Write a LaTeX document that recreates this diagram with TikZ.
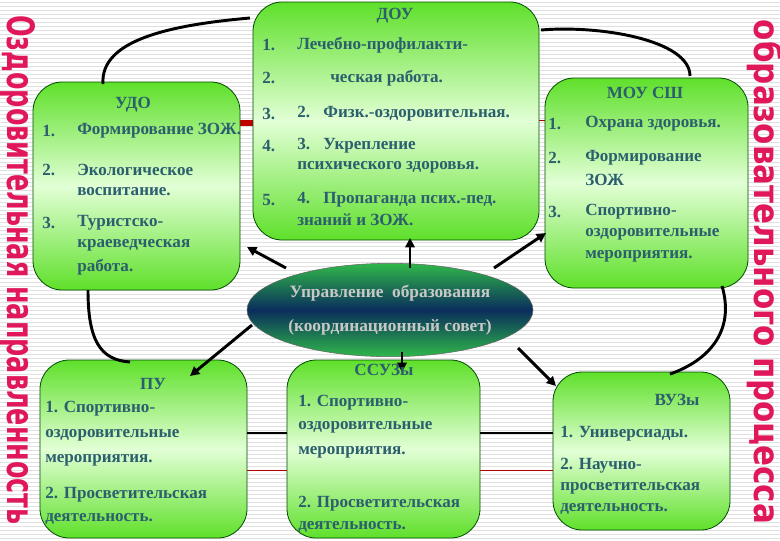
\documentclass[tikz,border=0pt]{standalone}
\usepackage{fontspec}
\setmainfont{Liberation Serif}
\newfontfamily\sidefont{DejaVu Sans}
\usetikzlibrary{shapes.geometric,arrows.meta}
\definecolor{txt}{HTML}{2C5F6E}
\definecolor{gr}{HTML}{5FE02A}
\definecolor{pale}{HTML}{E2FFD6}
\definecolor{side}{HTML}{E0185A}
\definecolor{navy}{HTML}{0A2E5C}
\definecolor{egreen}{HTML}{2FB84A}
\tikzset{
 box/.style={draw=black!70!green,line width=0.6pt,rounded corners=22pt,top color=gr,bottom color=gr,middle color=pale},
 t/.style={anchor=west,inner sep=0pt,text=txt,font=\bfseries\fontsize{12.8}{14}\selectfont},
 ttl/.style={t,anchor=center},
 conn/.style={line width=2.2pt,black},
 arr/.style={conn,-{Triangle[length=7pt,width=7pt]}},
 sidetxt/.style={inner sep=0pt,text=side,font=\sidefont\bfseries}
}
\begin{document}
\begin{tikzpicture}[x=0.75pt,y=-0.75pt]
\useasboundingbox (0,0) rectangle (780,540);
\fill[white] (0,0) rectangle (780,540);
\foreach \k in {2,6,...,538} \draw[black!12,line width=0.4pt] (0,\k) -- (780,\k);
% red lines
\draw[red!75!black,line width=4pt] (238,123) -- (256,123);
\draw[red!70!black,line width=0.5pt] (537,120) -- (547,120);
\draw[red!70!black,line width=0.5pt] (245,470) -- (290,470);
\draw[red!70!black,line width=0.5pt] (478,470) -- (556,470);
% boxes
\path[box] (253,2) rectangle (539,240);
\path[box] (33,82) rectangle (240,290);
\path[box] (545,78) rectangle (748,288);
\path[box] (40,360) rectangle (247,538);
\path[box] (287,360) rectangle (480,538);
\path[box] (553,372) rectangle (730,530);
\node[ellipse,inner sep=0pt,draw=black!60,
  minimum width=214.5pt,minimum height=70pt,top color=egreen,bottom color=egreen,middle color=navy] (upr) at (390,310) {};
\node[ttl,text=black!8!gray!40,font=\bfseries\fontsize{13}{14}\selectfont] (u1) at (390,293) {Управление\ \ образования};
\node[ttl,text=black!8!gray!40,font=\bfseries\fontsize{13}{14}\selectfont] (u2) at (390,327) {(координационный совет)};
% named anchors
\coordinate (doutl) at (250,18); \coordinate (doutr) at (541,30);
\coordinate (udot) at (103,84); \coordinate (udob) at (88,290);
\coordinate (moutp) at (690,76); \coordinate (moub) at (722,286);
\coordinate (put) at (130,362); \coordinate (vuzt) at (670,374);
\coordinate (doub) at (410,238); \coordinate (udobr) at (247,247);
\coordinate (moubl) at (546,233); \coordinate (putr) at (190,376);
\coordinate (ssuzt) at (402,372); \coordinate (vuztl) at (556,386);
\coordinate (puR) at (247,433); \coordinate (ssL) at (287,433);
\coordinate (ssR) at (480,433); \coordinate (vuL) at (553,433);
% curves
\draw[conn] (udot) .. controls (100,40) and (170,25) .. (doutl);
\draw[conn] (doutr) .. controls (600,25) and (690,40) .. (moutp);
\draw[conn] (udob) .. controls (88,340) and (100,360) .. (put);
\draw[conn] (moub) .. controls (735,330) and (710,360) .. (vuzt);
\draw[conn] (ssL) -- (puR);
\draw[conn] (ssR) -- (vuL);
% arrows from ellipse
\draw[arr] (410,268) -- (doub);
\draw[arr] (286,268) -- (udobr);
\draw[arr] (494,268) -- (moubl);
\draw[arr] (252,325) -- (putr);
\draw[arr] (402,352) -- (ssuzt);
\draw[arr] (518,348) -- (vuztl);
% DOU text
\node[ttl] (dt) at (395,16) {ДОУ};
\node[t] (d1n) at (262,45) {1.}; \node[t] (d1) at (297,45) {Лечебно-профилакти-};
\node[t] (d2n) at (262,78) {2.}; \node[t] (d2) at (330,78) {ческая работа.};
\node[t] (d3n) at (262,114) {3.}; \node[t] (d3) at (297,114) {2.\hspace{10pt}Физк.-оздоровительная.};
\node[t] (d4n) at (262,146) {4.}; \node[t] (d4) at (297,146) {3.\hspace{10pt}Укрепление};
\node[t] (d4b) at (297,167) {психического здоровья.};
\node[t] (d5n) at (262,200) {5.}; \node[t] (d5) at (297,200) {4.\hspace{10pt}Пропаганда псих.-пед.};
\node[t] (d5b) at (297,220) {знаний и ЗОЖ.};
% UDO
\node[ttl] (ut) at (133,105) {УДО};
\node[t] (u1n) at (42,131) {1.}; \node[t] (ud1) at (77,131) {Формирование ЗОЖ.};
\node[t] (u2n) at (42,170) {2.}; \node[t] (ud2) at (77,170) {Экологическое};
\node[t] (ud2b) at (77,192) {воспитание.};
\node[t] (u3n) at (42,223) {3.}; \node[t] (ud3) at (77,223) {Туристско-};
\node[t] (ud3b) at (77,245) {краеведческая};
\node[t] (ud3c) at (77,267) {работа.};
% MOU
\node[ttl] (mt) at (645,93) {МОУ СШ};
\node[t] (m1n) at (548,124) {1.}; \node[t] (m1) at (585,124) {Охрана здоровья.};
\node[t] (m2n) at (548,158) {2.}; \node[t] (m2) at (585,158) {Формирование};
\node[t] (m2b) at (585,180) {ЗОЖ};
\node[t] (m3n) at (548,212) {3.}; \node[t] (m3) at (585,212) {Спортивно-};
\node[t] (m3b) at (585,234) {оздоровительные};
\node[t] (m3c) at (585,256) {мероприятия.};
% PU
\node[ttl] (pt) at (153,384) {ПУ};
\node[t] (p1) at (45,409) {1. Спортивно-};
\node[t] (p2) at (45,435) {оздоровительные};
\node[t] (p3) at (45,460) {мероприятия.};
\node[t] (p4) at (45,495) {2. Просветительская};
\node[t] (p5) at (45,519) {деятельность.};
% SSUZ
\node[ttl] (st) at (384,370) {ССУЗы};
\node[t] (s1) at (298,403) {1. Спортивно-};
\node[t] (s2) at (298,427) {оздоровительные};
\node[t] (s3) at (298,452) {мероприятия.};
\node[t] (s4) at (298,504) {2. Просветительская};
\node[t] (s5) at (298,527) {деятельность.};
% VUZ
\node[ttl] (vt) at (677,400) {ВУЗы};
\node[t] (v1) at (560,434) {1. Универсиады.};
\node[t] (v2) at (560,466) {2. Научно-};
\node[t] (v3) at (560,488) {просветительская};
\node[t] (v4) at (560,509) {деятельность.};
% side texts
\node[sidetxt,rotate=-90] (lside) at (18,270) {\resizebox{382pt}{21pt}{Оздоровительная направленность}};
\node[sidetxt,rotate=-90] (rside) at (765,272) {\resizebox{378pt}{21pt}{образовательного процесса}};
\end{tikzpicture}
\end{document}
